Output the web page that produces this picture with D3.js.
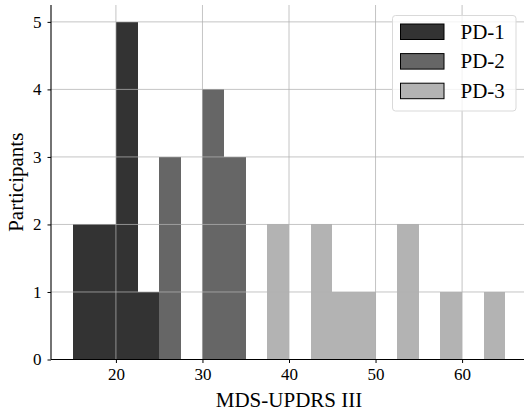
<!DOCTYPE html>
<html>
<head>
<meta charset="utf-8">
<script src="https://cdn.jsdelivr.net/npm/d3@7"></script>
<style>
  body { margin: 0; background: #fff; }
  svg { display: block; }
  text { font-family: "Liberation Serif", "DejaVu Serif", serif; fill: #000; }
</style>
</head>
<body>
<svg width="524" height="414"></svg>
<script>
// histogram bins (left edge), width 2.5, counts per group
const binWidth = 2.5;
const pd1Edges = [15, 17.5, 20, 22.5];
const pd1Counts = [2, 2, 5, 1];
const pd2Edges = [25, 27.5, 30, 32.5];
const pd2Counts = [3, 0, 4, 3];
const pd3Edges = [37.5, 40, 42.5, 45, 47.5, 50, 52.5, 55, 57.5, 60, 62.5];
const pd3Counts = [2, 0, 2, 1, 1, 0, 2, 0, 1, 0, 1];

const groups = ["PD-1", "PD-2", "PD-3"];
const colors = ["#333333", "#666666", "#b3b3b3"];
const xTicks = [20, 30, 40, 50, 60];
const yTicks = [0, 1, 2, 3, 4, 5];

const svg = d3.select("svg");
const margin = { left: 51, top: 5, right: -3, bottom: 54.5 };
const width = 524 - margin.left - margin.right,
      height = 414 - margin.top - margin.bottom;

const g = svg.append("g").attr("transform", `translate(${margin.left},${margin.top})`);

const x = d3.scaleLinear().domain([12.5, 67.5]).range([0, width]);
const y = d3.scaleLinear().domain([0, 5.25]).range([height, 0]);

const series = [
  { edges: pd1Edges, counts: pd1Counts },
  { edges: pd2Edges, counts: pd2Counts },
  { edges: pd3Edges, counts: pd3Counts }
];

// bars
series.forEach((s, i) => {
  g.append("g").selectAll("rect")
    .data(s.edges.map((e, j) => ({ x0: e, n: s.counts[j] })).filter(d => d.n > 0))
    .enter().append("rect")
    .attr("x", d => x(d.x0))
    .attr("width", d => x(d.x0 + binWidth) - x(d.x0))
    .attr("y", d => y(d.n))
    .attr("height", d => y(0) - y(d.n))
    .attr("fill", colors[i])
    .attr("shape-rendering", "crispEdges");
});

// grid on top of bars
const grid = g.append("g").attr("stroke", "#b0b0b0").attr("stroke-opacity", 0.75).attr("stroke-width", 1);
grid.selectAll(".gx").data(xTicks).enter().append("line")
  .attr("x1", d => x(d)).attr("x2", d => x(d))
  .attr("y1", 0).attr("y2", height);
grid.selectAll(".gy").data(yTicks.slice(1)).enter().append("line")
  .attr("x1", 0).attr("x2", width)
  .attr("y1", d => y(d)).attr("y2", d => y(d));

// axes
const xAxis = g.append("g").attr("transform", `translate(0,${height})`)
  .call(d3.axisBottom(x).tickValues(xTicks).tickFormat(d3.format("d")).tickSize(3.5).tickPadding(5));
const yAxis = g.append("g")
  .call(d3.axisLeft(y).tickValues(yTicks).tickFormat(d3.format("d")).tickSize(3.5).tickPadding(6));
[xAxis, yAxis].forEach(a => {
  a.attr("font-family", "Liberation Serif").attr("font-size", 17);
  a.selectAll("text").attr("font-family", "Liberation Serif").attr("font-size", 17);
  a.select(".domain").attr("stroke-width", 1.1);
});
yAxis.select(".domain").attr("d", `M0,0V${height}`);
xAxis.select(".domain").attr("d", `M0,0H${width}`);

svg.append("text")
  .attr("x", margin.left + x(40))
  .attr("y", 407)
  .attr("text-anchor", "middle")
  .style("font-size", "21px")
  .text("MDS-UPDRS III");

svg.append("text")
  .attr("transform", `translate(23,${margin.top + height / 2}) rotate(-90)`)
  .attr("text-anchor", "middle")
  .style("font-size", "21px")
  .text("Participants");

// legend
const lg = svg.append("g").attr("transform", "translate(392.5,15.5)");
lg.append("rect")
  .attr("width", 123.5).attr("height", 95.5).attr("rx", 3)
  .attr("fill", "#fff").attr("fill-opacity", 0.8)
  .attr("stroke", "#d9d9d9").attr("stroke-width", 1);
groups.forEach((name, i) => {
  const row = lg.append("g").attr("transform", `translate(8,${8.5 + i * 29.6})`);
  row.append("rect")
    .attr("width", 43.5).attr("height", 15.5)
    .attr("fill", colors[i]).attr("stroke", "#000").attr("stroke-width", 1);
  row.append("text")
    .attr("x", 60).attr("y", 14.5)
    .style("font-size", "21px")
    .text(name);
});
</script>
</body>
</html>
